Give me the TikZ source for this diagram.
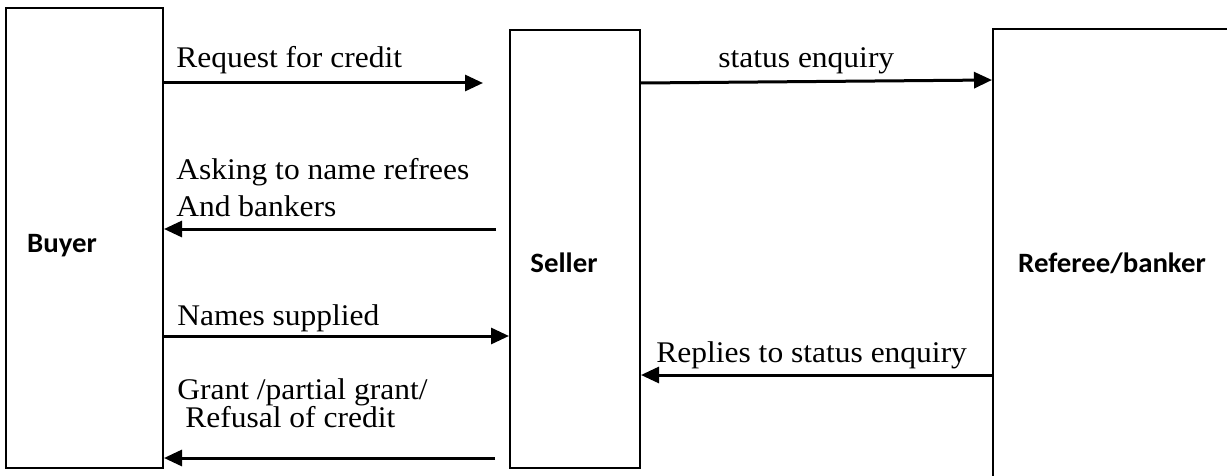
\documentclass[tikz,border=0pt]{standalone}
\usepackage{fontspec}
\usetikzlibrary{arrows.meta}
\newfontfamily\msgfont[FakeStretch=1.05]{Liberation Serif}
\newfontfamily\partyfont[FakeStretch=1.03]{Carlito}

\tikzset{
	party/.style={draw=black, line width=1pt, rectangle, inner sep=0pt},
	partyname/.style={inner sep=0pt, anchor=base, font=\partyfont\bfseries\fontsize{14}{16}\selectfont},
	msg/.style={inner sep=0pt, anchor=base west, font=\msgfont\fontsize{15}{17}\selectfont},
	flow/.style={line width=1.5pt, -{Triangle[length=9pt, width=8pt]}}
}

\begin{document}
\begin{tikzpicture}[x={(0.5pt,0)}, y={(0,-0.5pt)}]
			\useasboundingbox (0,0) rectangle (1227,476);
			\clip (0,0) rectangle (1227,476);
			% the three parties
			\node [party, minimum width=78.5pt, minimum height=230pt] (buyer) at (84.5,238) {};
			\node [party, minimum width=65pt, minimum height=219pt] (seller) at (575,249) {};
			\node [party, minimum width=128.5pt, minimum height=235.5pt] (referee) at (1121.5,264.5) {};
			\node [partyname] (buyername) at (62,252) {Buyer};
			\node [partyname] (sellername) at (564,272) {Seller};
			\node [partyname] (refereename) at (1112,272) {Referee/banker};
			% free ends of the short arrows
			\coordinate (reqend) at (483,83);
			\coordinate (askstart) at (496,229);
			\coordinate (grantstart) at (495,458);
			% messages
			\node [msg] (reqtext) at (176,68) {Request for credit};
			\draw [flow] (buyer.east |- reqend) -- (reqend);
			\node [msg] (statustext) at (718,68) {status enquiry};
			\draw [flow] (seller.east |- 0,83) -- (referee.west |- 0,80);
			\node [msg] (asktexta) at (176,180) {Asking to name refrees};
			\node [msg] (asktextb) at (176,216) {And bankers};
			\draw [flow] (askstart) -- (buyer.east |- askstart);
			\node [msg] (namestext) at (177,325) {Names supplied};
			\draw [flow] (buyer.east |- 0,336) -- (seller.west |- 0,336);
			\node [msg] (replytext) at (656,362) {Replies to status enquiry};
			\draw [flow] (referee.west |- 0,375) -- (seller.east |- 0,375);
			\node [msg] (granttexta) at (177,399) {Grant /partial grant/};
			\node [msg] (granttextb) at (185,427) {Refusal of credit};
			\draw [flow] (grantstart) -- (buyer.east |- grantstart);
		\end{tikzpicture}
\end{document}
